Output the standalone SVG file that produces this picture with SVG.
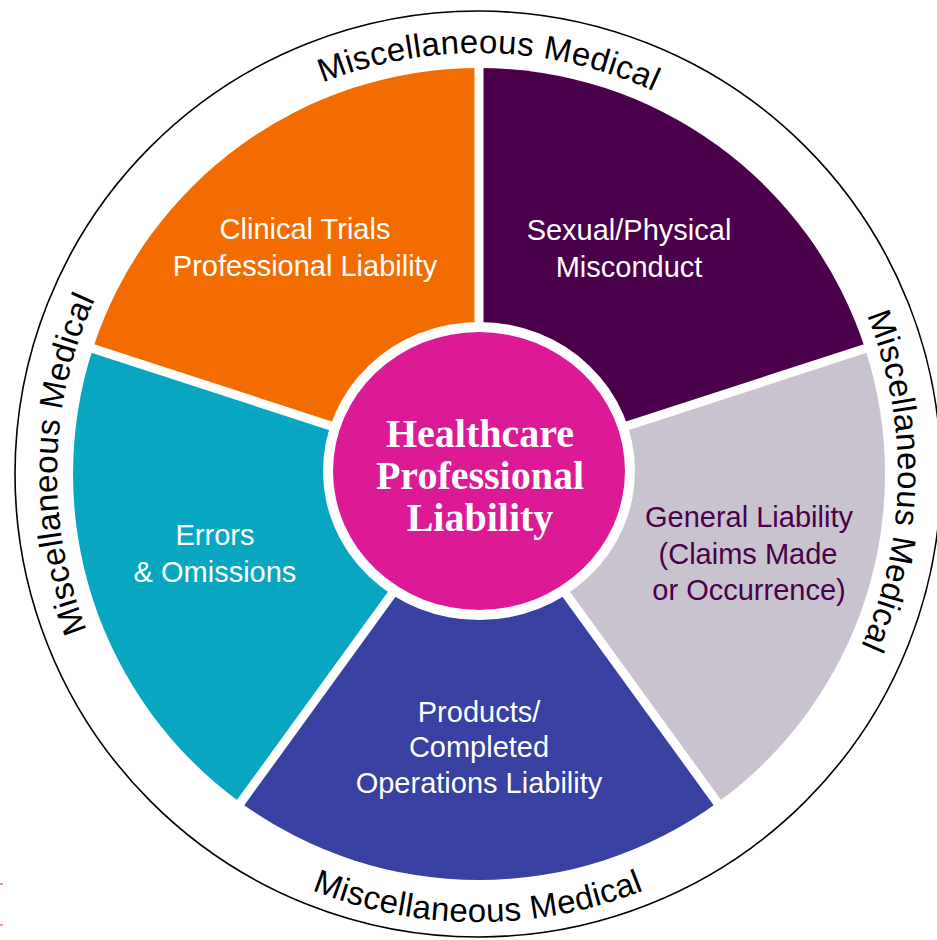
<svg xmlns="http://www.w3.org/2000/svg" width="937" height="940" viewBox="0 0 937 940">
<style>
.lbl{font-family:"Liberation Sans",Arial,sans-serif;font-size:29px;text-anchor:middle}
.w{fill:#ffffff}
.p{fill:#4b004b}
.ctr{font-family:"Liberation Serif","Times New Roman",serif;font-size:40px;font-weight:bold;fill:#ffffff;text-anchor:middle}
.ring{font-family:"Liberation Sans",Arial,sans-serif;font-size:33px;letter-spacing:0.4px;fill:#000000}
.sep{stroke:#ffffff;stroke-width:9;fill:none}
</style>
<defs>
<path id="arcTop" d="M119.1,254.0 A421,421 0 0 1 848.0,273.1"/>
<path id="arcRight" d="M694.3,114.0 A420,420 0 0 1 681.6,841.3"/>
<path id="arcLeft" d="M258.7,833.4 A421,421 0 0 1 276.5,104.4"/>
<path id="arcBottom" d="M90,698 A448,448 0 0 0 866,698"/>
</defs>
<rect width="937" height="940" fill="#ffffff"/>
<g id="outer-ring">
<circle cx="478" cy="474" r="463" fill="none" stroke="#000000" stroke-width="1.6"/>
<text class="ring"><textPath href="#arcTop" startOffset="50%" text-anchor="middle">Miscellaneous Medical</textPath></text>
<text class="ring"><textPath href="#arcRight" startOffset="50%" text-anchor="middle">Miscellaneous Medical</textPath></text>
<text class="ring"><textPath href="#arcLeft" startOffset="50%" text-anchor="middle">Miscellaneous Medical</textPath></text>
<text class="ring"><textPath href="#arcBottom" startOffset="50%" text-anchor="middle">Miscellaneous Medical</textPath></text>
</g>
<g id="clinical-trials">
<path d="M479,474 L92.9,348.5 A406,406 0 0 1 479,68 Z" fill="#f36c00"/>
<text class="lbl w" x="305" y="239">Clinical Trials</text>
<text class="lbl w" x="305" y="276">Professional Liability</text>
</g>
<g id="sexual-physical">
<path d="M479,474 L479,68 A406,406 0 0 1 865.1,348.5 Z" fill="#4b004b"/>
<text class="lbl w" x="629" y="240">Sexual/Physical</text>
<text class="lbl w" x="629" y="277">Misconduct</text>
</g>
<g id="general-liability">
<path d="M479,474 L865.1,348.5 A406,406 0 0 1 717.6,802.5 Z" fill="#c8c3ce"/>
<text class="lbl p" x="749" y="527">General Liability</text>
<text class="lbl p" x="748" y="564">(Claims Made</text>
<text class="lbl p" x="749" y="600">or Occurrence)</text>
</g>
<g id="products">
<path d="M479,474 L717.6,802.5 A406,406 0 0 1 240.4,802.5 Z" fill="#3840a2"/>
<text class="lbl w" x="479" y="722">Products/</text>
<text class="lbl w" x="479" y="757">Completed</text>
<text class="lbl w" x="479" y="793">Operations Liability</text>
</g>
<g id="errors-omissions">
<path d="M479,474 L240.4,802.5 A406,406 0 0 1 92.9,348.5 Z" fill="#09a6c2"/>
<text class="lbl w" x="215" y="545">Errors</text>
<text class="lbl w" x="215" y="582">&amp; Omissions</text>
</g>
<g id="connectors">
<line class="sep" x1="479" y1="474" x2="479" y2="60"/>
<line class="sep" x1="479" y1="474" x2="873" y2="346"/>
<line class="sep" x1="479" y1="474" x2="722" y2="809"/>
<line class="sep" x1="479" y1="474" x2="236" y2="809"/>
<line class="sep" x1="479" y1="474" x2="85" y2="346"/>
</g>
<g id="center">
<ellipse cx="479" cy="471" rx="156" ry="149" fill="#ffffff"/>
<ellipse cx="479" cy="471" rx="146" ry="139" fill="#dc1a96"/>
<text class="ctr" x="480" y="447">Healthcare</text>
<text class="ctr" x="480" y="489">Professional</text>
<text class="ctr" x="480" y="531">Liability</text>
</g>
<path d="M0,884 H3 M0,925 H3" stroke="#e0208c" stroke-width="1.2" fill="none"/>
</svg>
